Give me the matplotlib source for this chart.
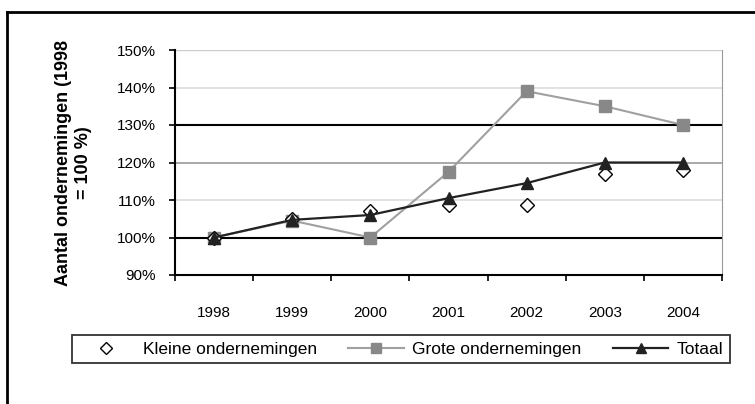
import numpy as np
import matplotlib.pyplot as plt
from matplotlib.lines import Line2D

plt.rcParams['font.family'] = ['Liberation Sans', 'DejaVu Sans']

jaren = ['1998', '1999', '2000', '2001', '2002', '2003', '2004']
kleine = [100, 105, 107, 108.7, 108.7, 117, 118]
grote = [100, 104.5, 100, 117.5, 139, 135, 130]
totaal = [100, 104.7, 106, 110.5, 114.5, 120, 120]

fig = plt.figure(figsize=(7.55, 4.04), dpi=100)
ax = fig.add_axes([175/755, 1-275/404, 547/755, 225/404])

# outer frame (only top and left visible)
fig.add_artist(Line2D([7/755, 1], [1-12/404, 1-12/404], color='black', lw=2, transform=fig.transFigure))
fig.add_artist(Line2D([7/755, 7/755], [0, 1-12/404], color='black', lw=2, transform=fig.transFigure))

x = np.arange(len(jaren))

# gridlines
for v, c, w in [(150, '#cccccc', 1), (140, '#dddddd', 1.2), (130, 'black', 1.5),
                (120, '#999999', 1.2), (110, '#dddddd', 1.2), (100, 'black', 1.5)]:
    ax.axhline(v, color=c, lw=w, zorder=1)

ax.plot(x, grote, color='#a0a0a0', lw=1.5, marker='s', ms=9, mfc='#888888', mec='#888888',
        label='Grote ondernemingen', zorder=3)
ax.plot(x, kleine, ls='none', marker='D', ms=7, mfc='white', mec='black', mew=1,
        label='Kleine ondernemingen', zorder=4)
ax.plot(x, totaal, color='#222222', lw=1.6, marker='^', ms=9, mfc='#222222', mec='#222222',
        label='Totaal', zorder=5)

ax.set_xlim(-0.5, 6.5)
ax.set_ylim(90, 150)
ax.set_yticks(np.arange(90, 151, 10))
ax.set_yticklabels([f'{v}%' for v in range(90, 151, 10)], fontsize=11)
ax.set_xticks(x)
ax.set_xticklabels(jaren, fontsize=11)
ax.tick_params(axis='x', length=0, pad=22)
ax.set_xticks(np.arange(-0.5, 7, 1), minor=True)
ax.tick_params(axis='x', which='minor', length=4, width=1.2, direction='out')
ax.tick_params(axis='y', length=4, width=1.2, direction='out', pad=10)

ax.spines['left'].set_linewidth(1.5)
ax.spines['bottom'].set_linewidth(1.5)
ax.spines['right'].set_color('#999999')
ax.spines['top'].set_visible(False)

ax.set_ylabel('Aantal ondernemingen (1998\n= 100 %)', fontsize=13, fontweight='bold', labelpad=18)

h, l = ax.get_legend_handles_labels()
order = [1, 0, 2]
leg = fig.legend([h[i] for i in order], [l[i] for i in order], ncol=3, fontsize=12.5,
                 loc='center', bbox_to_anchor=(401/755, 1-349/404), frameon=True,
                 fancybox=False, edgecolor='black', handlelength=3.2, columnspacing=1.8,
                 handletextpad=0.5, borderpad=0.35, borderaxespad=0)
leg.get_frame().set_linewidth(1.3)
leg.legend_handles[0].set_markersize(6)
leg.legend_handles[1].set_markersize(7)
leg.legend_handles[2].set_markersize(7)

fig.savefig('out.png', dpi=100)
